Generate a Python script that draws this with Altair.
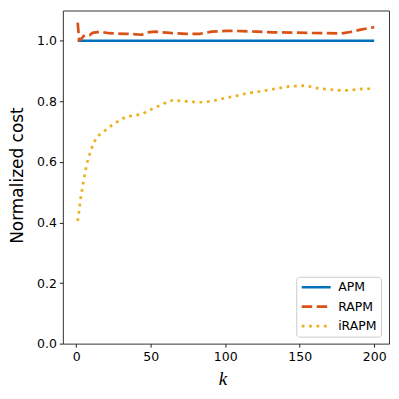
import altair as alt
import pandas as pd

series_names = ["APM", "RAPM", "iRAPM"]
series_colors = ["#0072BD", "#D95319", "#EDB120"]

k_apm = [1, 200]
v_apm = [1.0, 1.0]

k_rapm = [1, 2, 3, 5, 7, 9, 11, 16, 22, 26, 33, 38, 44, 47, 53, 63, 74, 83, 91,
          101, 111, 121, 132, 144, 155, 168, 178, 184, 191, 200]
v_rapm = [1.06, 1.002, 1.003, 1.016, 1.02, 1.019, 1.026, 1.03, 1.025, 1.024, 1.023,
          1.022, 1.02, 1.027, 1.03, 1.026, 1.023, 1.023, 1.03, 1.033, 1.032, 1.03,
          1.028, 1.027, 1.026, 1.025, 1.024, 1.029, 1.037, 1.045]

k_irapm = [1, 2, 3, 4, 5, 6, 7, 8, 10, 12, 14, 18, 22, 26, 30, 34, 39, 44, 48, 52,
           57, 61, 66, 71, 76, 80, 85, 90, 95, 100, 105, 110, 114, 119, 124, 129,
           134, 139, 144, 148, 153, 158, 163, 168, 173, 178, 183, 188, 192, 197, 200]
v_irapm = [0.405, 0.44, 0.48, 0.51, 0.54, 0.565, 0.59, 0.61, 0.64, 0.665, 0.684,
           0.698, 0.714, 0.728, 0.74, 0.75, 0.753, 0.758, 0.767, 0.778, 0.788, 0.798,
           0.805, 0.80, 0.80, 0.797, 0.797, 0.80, 0.805, 0.811, 0.816, 0.821, 0.826,
           0.83, 0.833, 0.838, 0.842, 0.846, 0.85, 0.85, 0.852, 0.848, 0.842, 0.84,
           0.838, 0.836, 0.836, 0.839, 0.841, 0.842, 0.843]

x_ticks = [0, 50, 100, 150, 200]
y_ticks = [0.0, 0.2, 0.4, 0.6, 0.8, 1.0]

rows = []
for name, ks, vs in [("APM", k_apm, v_apm), ("RAPM", k_rapm, v_rapm), ("iRAPM", k_irapm, v_irapm)]:
    for kk, vv in zip(ks, vs):
        rows.append({"k": kk, "cost": vv, "method": name})
df = pd.DataFrame(rows)

legend = alt.Legend(
    title=None, orient="none", legendX=234, legendY=267,
    symbolType="stroke", symbolSize=841, symbolStrokeWidth=2.7,
    clipHeight=13, rowPadding=6.5, padding=4, labelOffset=6,
    labelFont="DejaVu Sans", labelFontSize=12.5, labelColor="black",
    strokeColor="#cccccc", cornerRadius=3, fillColor="white",
)

chart = alt.Chart(df).mark_line(strokeWidth=2.7, clip=True).encode(
    x=alt.X("k:Q",
            scale=alt.Scale(domain=[-8.95, 209.95], nice=False, zero=False),
            axis=alt.Axis(values=x_ticks, title="k", titleFont="Liberation Serif",
                          titleFontStyle="italic", titleFontWeight="normal",
                          titleFontSize=19, titleX=160, titleY=41,
                          titleBaseline="alphabetic", titleAlign="center",
                          titleColor="black")),
    y=alt.Y("cost:Q",
            scale=alt.Scale(domain=[0, 1.1], nice=False, zero=False),
            axis=alt.Axis(values=y_ticks, format=".1f", title="Normalized cost",
                          titleFont="DejaVu Sans", titleFontSize=17,
                          titleFontWeight="normal", titleAngle=270,
                          titleX=-45, titleY=165, titleBaseline="middle",
                          titleAlign="center", titleColor="black")),
    color=alt.Color("method:N",
                    scale=alt.Scale(domain=series_names, range=series_colors),
                    sort=series_names, legend=legend),
    strokeDash=alt.StrokeDash("method:N",
                              scale=alt.Scale(domain=series_names,
                                              range=[[1, 0], [10.5, 4.5], [2.8, 4.6]]),
                              sort=series_names, legend=legend),
    order=alt.Order("k:Q"),
).properties(
    width=327, height=334,
    autosize=alt.AutoSizeParams(type="none"),
    padding={"left": 55, "top": 2, "right": 2, "bottom": 45},
).configure_view(
    stroke="#333333", strokeWidth=1,
).configure_axis(
    domain=False, grid=False, ticks=True, tickSize=3.5, tickColor="#222222",
    tickWidth=1, labelFont="DejaVu Sans", labelFontSize=12.5, labelColor="black",
    labelPadding=3,
)

chart.save("out.html", embed_options={"renderer": "svg", "actions": False})
